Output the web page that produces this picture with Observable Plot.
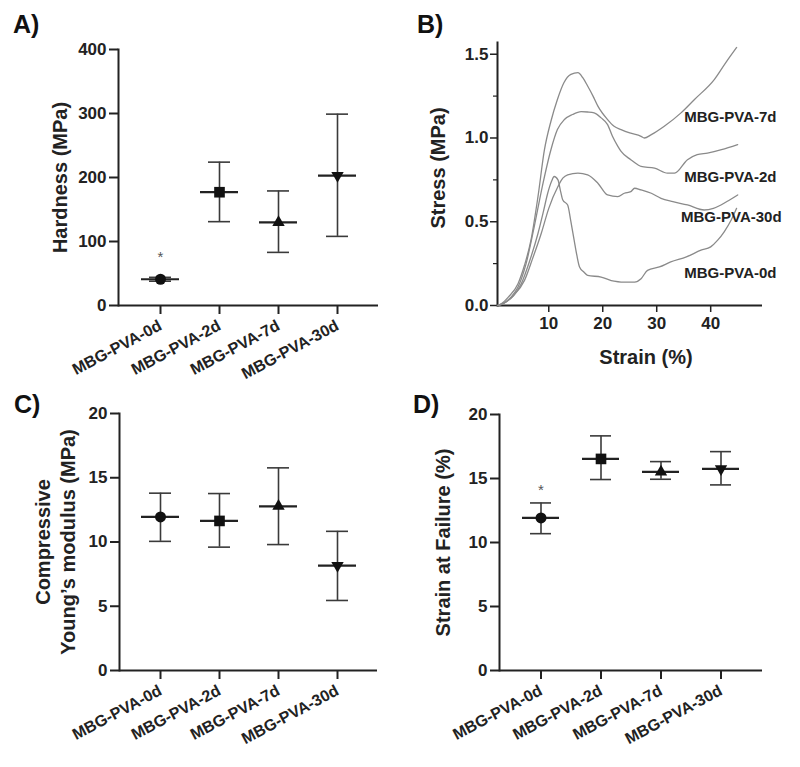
<!DOCTYPE html>
<html><head><meta charset="utf-8">
<script src="https://cdn.jsdelivr.net/npm/d3@7"></script>
<script src="https://cdn.jsdelivr.net/npm/@observablehq/plot@0.6"></script>
<style>
body{margin:0;background:#fff;}
#fig{position:relative;width:800px;height:767px;font-family:"Liberation Sans",Arial,sans-serif;overflow:hidden;}
.panel{position:absolute;}
.letter{position:absolute;font-weight:bold;font-size:25px;line-height:1;color:#111;}
</style></head><body>
<div id="fig">
  <div class="panel" id="pA" style="left:0;top:0"></div>
  <div class="panel" id="pB" style="left:400px;top:0"></div>
  <div class="panel" id="pC" style="left:0;top:380px"></div>
  <div class="panel" id="pD" style="left:400px;top:380px"></div>
  <div class="letter" style="left:13px;top:12px">A)</div>
  <div class="letter" style="left:417px;top:12px">B)</div>
  <div class="letter" style="left:14px;top:392px">C)</div>
  <div class="letter" style="left:413px;top:392px">D)</div>
</div>
<script>
// ---- categories ----
const groups = ["MBG-PVA-0d", "MBG-PVA-2d", "MBG-PVA-7d", "MBG-PVA-30d"];

// ---- A) Hardness (MPa) ----
const hardnessMean = [41, 177, 130, 203];
const hardnessLow  = [38, 131, 83, 108];
const hardnessHigh = [44, 224, 179, 299];
const hardnessStar = [76, null, null, null];
const hardnessTicks = [0, 100, 200, 300, 400];

// ---- C) Compressive Young's modulus (MPa) ----
const modulusMean = [11.95, 11.64, 12.78, 8.16];
const modulusLow  = [10.05, 9.6, 9.8, 5.45];
const modulusHigh = [13.8, 13.77, 15.77, 10.83];
const modulusTicks = [0, 5, 10, 15, 20];

// ---- D) Strain at failure (%) ----
const failureMean = [11.92, 16.53, 15.51, 15.75];
const failureLow  = [10.69, 14.92, 14.94, 14.5];
const failureHigh = [13.09, 18.33, 16.32, 17.1];
const failureStar = [14.1, null, null, null];
const failureTicks = [0, 5, 10, 15, 20];

// ---- B) Stress-strain curves ----
const strain7d = [0.5,1.2,2.5,4.3,5.5,6.7,8,9.2,10.4,11.6,12.8,14.1,15.4,16.3,17.2,18.2,19.1,20.9,22.1,23.4,25,27.1,27.7,29,31.4,34.5,37,40.7,42.8,44.8];
const stress7d = [0,0.01,0.05,0.13,0.24,0.39,0.65,0.93,1.1,1.23,1.33,1.38,1.39,1.36,1.31,1.25,1.19,1.11,1.07,1.05,1.03,1.01,1.0,1.02,1.07,1.15,1.23,1.35,1.45,1.54];
const strain2d = [0.5,1.5,3,4.3,5.8,7.3,8.8,10.4,11.6,12.9,14.4,16,17.2,18.4,19.7,20.9,21.8,22.8,23.4,25.2,26.5,27.1,29.6,32,33.3,35.7,37.5,39.4,42,45];
const stress2d = [0,0.01,0.05,0.11,0.25,0.47,0.71,0.93,1.05,1.11,1.14,1.157,1.155,1.15,1.12,1.08,1.01,0.95,0.92,0.87,0.84,0.83,0.82,0.79,0.79,0.87,0.9,0.91,0.93,0.96];
const strain30d = [0.5,2,3.5,5.5,7,8.6,10,11.7,12.6,13.5,15.4,17.2,19.1,20.9,22.8,24,25.2,25.9,27.1,29,30.8,33,35.7,38.8,40.5,41.9,43.5,45];
const stress30d = [0,0.02,0.06,0.15,0.28,0.43,0.58,0.71,0.76,0.78,0.79,0.78,0.73,0.66,0.65,0.67,0.68,0.70,0.69,0.67,0.64,0.62,0.60,0.57,0.58,0.60,0.63,0.66];
const strain0d = [0.5,2,3.5,4.9,6.5,8,9,9.8,10.5,11,11.7,12.2,12.6,13.5,14.1,14.7,15.2,15.7,16.5,17.2,19.7,22.1,23.4,25.2,25.9,27.1,28.3,30.5,32.6,35.5,38.2,40,41.3,42.5,43.8,44.8];
const stress0d = [0,0.02,0.06,0.13,0.27,0.43,0.56,0.67,0.74,0.77,0.75,0.68,0.63,0.60,0.5,0.39,0.3,0.23,0.2,0.18,0.17,0.145,0.14,0.14,0.14,0.16,0.21,0.23,0.26,0.29,0.33,0.35,0.39,0.44,0.51,0.58];
const curveNames = ["MBG-PVA-7d", "MBG-PVA-2d", "MBG-PVA-30d", "MBG-PVA-0d"];
const curveStrains = [strain7d, strain2d, strain30d, strain0d];
const curveStresses = [stress7d, stress2d, stress30d, stress0d];
const curveLabelX = [35.1, 35.1, 34.5, 35.1];
const curveLabelY = [1.127, 0.768, 0.525, 0.193];
const stressTicks = [0, 0.5, 1.0, 1.5];
const stressMinorTicks = [0.25, 0.75, 1.25];
const strainTicks = [10, 20, 30, 40];

// ---- symbols ----
const triangleDown = {
  draw(context, size) {
    const y = -Math.sqrt(size / (Math.sqrt(3) * 3));
    context.moveTo(0, -y * 2);
    context.lineTo(-Math.sqrt(3) * y, y);
    context.lineTo(Math.sqrt(3) * y, y);
    context.closePath();
  }
};
const groupSymbols = ["circle", "square", "triangle", triangleDown];
const groupRadius = [5.5, 6, 4.6, 4.6];

const INK = "#222";
const BAR = "#3a3a3a";
const baseStyle = {fontFamily: "'Liberation Sans', Arial, sans-serif", fontWeight: "bold", fontSize: "16px", color: INK, background: "transparent", overflow: "visible"};

function errorPanel({mean, low, high, star, ticks, yDomain, title, titleDx, titleLineHeight, width, height, margins, padIn, padOut}) {
  const data = groups.map((g, i) => ({g, mean: mean[i], lo: low[i], hi: high[i], star: star ? star[i] : null}));
  const dots = groups.map((g, i) => Plot.dot(data.filter(d => d.g === g), {
    x: "g", y: "mean", symbol: groupSymbols[i], r: groupRadius[i], fill: "#111", stroke: "none"
  }));
  return Plot.plot({
    width, height,
    marginLeft: margins[0], marginRight: margins[1], marginTop: margins[2], marginBottom: margins[3],
    style: baseStyle,
    x: {type: "band", domain: groups, paddingInner: padIn, paddingOuter: padOut, label: null},
    y: {domain: yDomain, label: null},
    marks: [
      Plot.frame({anchor: "left", stroke: INK, strokeWidth: 2}),
      Plot.ruleY([yDomain[0]], {stroke: INK, strokeWidth: 2}),
      Plot.axisY({ticks, tickSize: 9, tickPadding: 3, fontSize: 17, strokeWidth: 2, stroke: INK, fill: INK, label: null}),
      Plot.axisX({tickSize: 9, tickPadding: 10, tickRotate: -28, fontSize: 16, strokeWidth: 2, stroke: INK, fill: INK, label: null}),
      Plot.ruleX(data, {x: "g", y1: "lo", y2: "hi", stroke: BAR, strokeWidth: 1.6}),
      Plot.tickY(data, {x: "g", y: "lo", insetLeft: 8, insetRight: 8, stroke: BAR, strokeWidth: 1.6}),
      Plot.tickY(data, {x: "g", y: "hi", insetLeft: 8, insetRight: 8, stroke: BAR, strokeWidth: 1.6}),
      Plot.tickY(data, {x: "g", y: "mean", stroke: INK, strokeWidth: 2.2}),
      ...dots,
      Plot.text(data.filter(d => d.star != null), {x: "g", y: "star", text: () => "*", fontSize: 15, fontWeight: "normal", fill: "#555"}),
      Plot.text([title], {frameAnchor: "left", textAnchor: "middle", dx: titleDx, rotate: -90, fontSize: 20, lineHeight: titleLineHeight || 1, fill: INK})
    ]
  });
}

document.getElementById("pA").append(errorPanel({
  mean: hardnessMean, low: hardnessLow, high: hardnessHigh, star: hardnessStar,
  ticks: hardnessTicks, yDomain: [0, 400], title: "Hardness (MPa)", titleDx: -58,
  width: 400, height: 380, margins: [118, 22, 49, 75], padIn: 0.36, padOut: 0.355
}));

document.getElementById("pC").append(errorPanel({
  mean: modulusMean, low: modulusLow, high: modulusHigh, star: null,
  ticks: modulusTicks, yDomain: [0, 20], title: "Compressive\nYoung\u2019s modulus (MPa)", titleDx: -65, titleLineHeight: 1.25,
  width: 400, height: 387, margins: [119, 23, 33, 97], padIn: 0.36, padOut: 0.355
}));

document.getElementById("pD").append(errorPanel({
  mean: failureMean, low: failureLow, high: failureHigh, star: failureStar,
  ticks: failureTicks, yDomain: [0, 20], title: "Strain at Failure (%)", titleDx: -56,
  width: 400, height: 387, margins: [99, 38, 34, 97], padIn: 0.376, padOut: 0.345
}));

// ---- B ----
const curveData = curveNames.flatMap((name, k) => curveStrains[k].map((s, i) => ({series: name, strain: s, stress: curveStresses[k][i]})));
const labelData = curveNames.map((name, k) => ({name, x: curveLabelX[k], y: curveLabelY[k]}));

document.getElementById("pB").append(Plot.plot({
  width: 400, height: 380,
  marginLeft: 97, marginRight: 38, marginTop: 42, marginBottom: 75,
  style: baseStyle,
  x: {domain: [0.5, 49.6], label: null},
  y: {domain: [0, 1.57], label: null},
  marks: [
    Plot.frame({anchor: "left", stroke: INK, strokeWidth: 2}),
    Plot.ruleY([0], {stroke: INK, strokeWidth: 2}),
    Plot.axisY({ticks: stressTicks, tickFormat: d3.format(".1f"), tickSize: 7, tickPadding: 2, fontSize: 17, strokeWidth: 1.5, stroke: INK, fill: INK, label: null}),
    Plot.axisY({ticks: stressMinorTicks, tickFormat: () => "", tickSize: 4, strokeWidth: 1.2, stroke: INK, label: null}),
    Plot.axisX({ticks: strainTicks, tickSize: 7, tickPadding: 4, fontSize: 17, strokeWidth: 1.5, stroke: INK, fill: INK, label: null}),
    Plot.line(curveData, {x: "strain", y: "stress", z: "series", stroke: "#8a8a8a", strokeWidth: 1.3, curve: "monotone-x"}),
    Plot.text(labelData, {x: "x", y: "y", text: "name", textAnchor: "start", fontSize: 15, fill: INK}),
    Plot.text(["Stress (MPa)"], {frameAnchor: "left", textAnchor: "middle", dx: -59, dy: -6, rotate: -90, fontSize: 20, fill: INK}),
    Plot.text(["Strain (%)"], {frameAnchor: "bottom", dx: 16, dy: 58, fontSize: 20, fill: INK})
  ]
}));
</script>
</body></html>
